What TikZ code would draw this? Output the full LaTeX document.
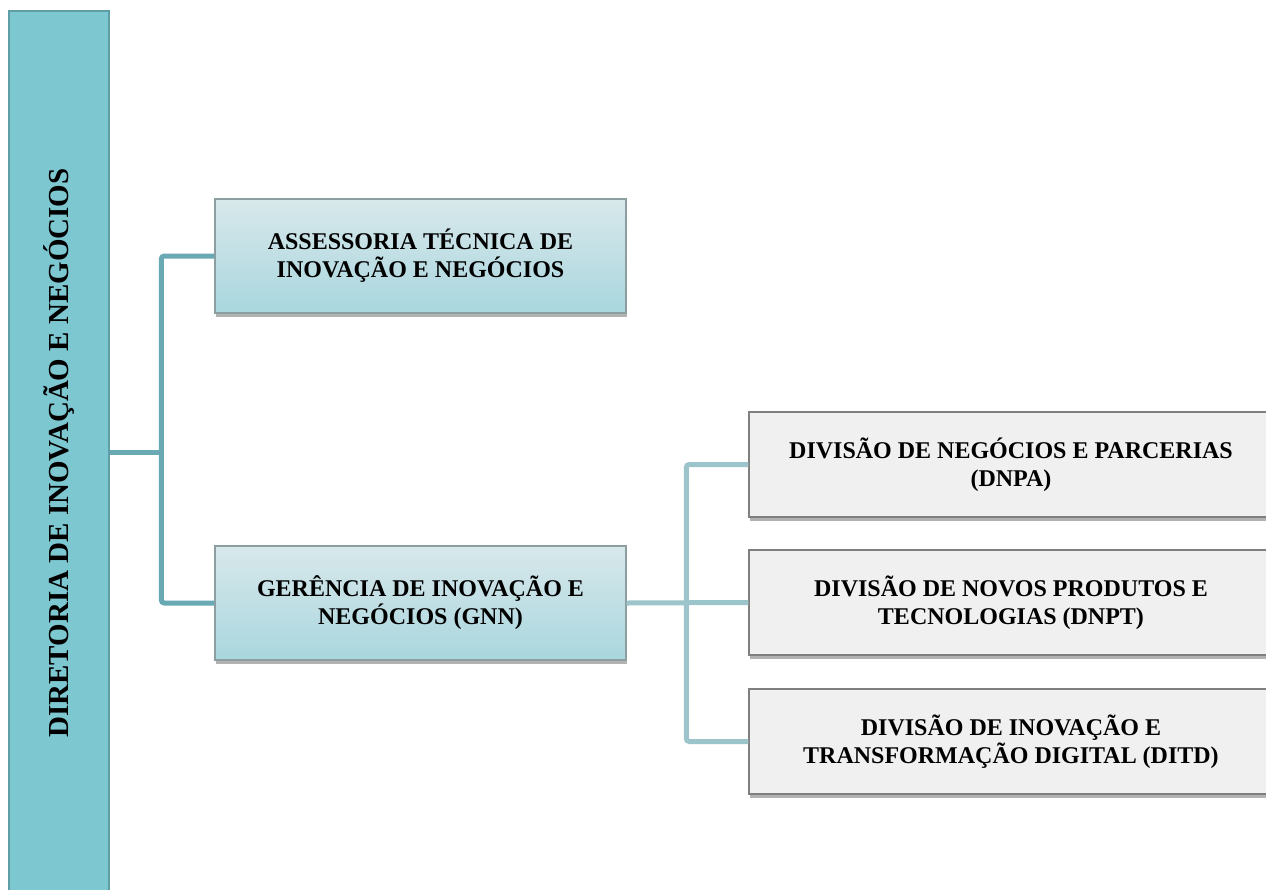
\documentclass[tikz,border=0pt]{standalone}
\usepackage{fontspec}
\setmainfont{Liberation Serif}
\usetikzlibrary{shadows}
\definecolor{barfill}{HTML}{7DC7D1}
\definecolor{barline}{HTML}{5F9EA5}
\definecolor{bluetop}{HTML}{D8E8EB}
\definecolor{bluebot}{HTML}{A9D6DE}
\definecolor{blueline}{HTML}{8C9EA0}
\definecolor{grayfill}{HTML}{F0F0F0}
\definecolor{grayline}{HTML}{7F7F7F}
\definecolor{connA}{HTML}{68A9B3}
\definecolor{connB}{HTML}{9CC4CB}
\begin{document}
\begin{tikzpicture}[x=0.5pt,y=-0.5pt,
  boxshadow/.style={drop shadow={shadow xshift=0.6pt, shadow yshift=-2pt, fill=black, opacity=0.3}},
  boxtext/.style={align=center, font=\bfseries\fontsize{12}{14}\selectfont, inner sep=0pt},
  bluebox/.style={boxtext, draw=blueline, line width=0.7pt, top color=bluetop, bottom color=bluebot,
    minimum width=205.5pt, minimum height=57pt, boxshadow},
  graybox/.style={boxtext, draw=grayline, line width=0.7pt, fill=grayfill,
    minimum width=262pt, minimum height=52.5pt, boxshadow},
  barbox/.style={draw=barline, line width=0.6pt, fill=barfill, rotate=90,
    minimum width=442pt, minimum height=50pt, inner sep=0pt,
    font=\bfseries\fontsize{14.5}{16}\selectfont},
  connone/.style={draw=connA, line width=2.5pt, rounded corners=1.5pt},
  conntwo/.style={draw=connB, line width=2.5pt, rounded corners=1.5pt}
]
\useasboundingbox (0,0) rectangle (1266,890);
\clip (0,0) rectangle (1266,890);
\fill[white] (0,0) rectangle (1266,890);

% connectors (drawn first, under boxes)
\coordinate (j1) at (162,452);

\node[barbox] (dir) at (59,453) {DIRETORIA DE INOVAÇÃO E NEGÓCIOS};

\node[bluebox] (asse) at (420.5,256) {ASSESSORIA TÉCNICA DE\\INOVAÇÃO E NEGÓCIOS};
\node[bluebox] (gnn) at (420.5,603) {GERÊNCIA DE INOVAÇÃO E\\NEGÓCIOS (GNN)};

\node[graybox] (dnpa) at (1011,464.5) {DIVISÃO DE NEGÓCIOS E PARCERIAS\\(DNPA)};
\node[graybox] (dnpt) at (1011,602.5) {DIVISÃO DE NOVOS PRODUTOS E\\TECNOLOGIAS (DNPT)};
\node[graybox] (ditd) at (1011,741.5) {DIVISÃO DE INOVAÇÃO E\\TRANSFORMAÇÃO DIGITAL (DITD)};

\draw[connone] (dir.south |- j1) -- (j1);
\draw[connone] (asse.west) -- ++(-53,0) |- (gnn.west);

\draw[conntwo] (gnn.east) -- (dnpt.west);
\draw[conntwo] (dnpa.west) -- ++(-62,0) |- (ditd.west);
\end{tikzpicture}
\end{document}
